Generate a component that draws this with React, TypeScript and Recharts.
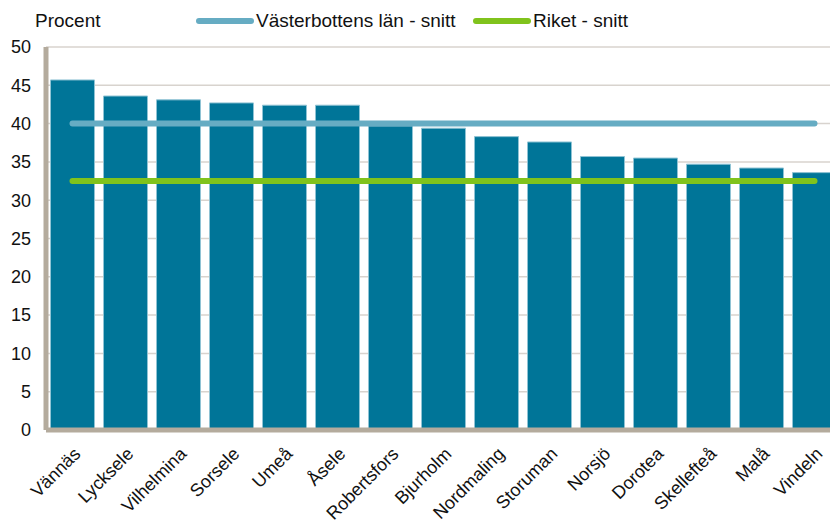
import { Bar, CartesianGrid, ComposedChart, Line, XAxis, YAxis } from "recharts";

const kommuner = [
  "Vännäs",
  "Lycksele",
  "Vilhelmina",
  "Sorsele",
  "Umeå",
  "Åsele",
  "Robertsfors",
  "Bjurholm",
  "Nordmaling",
  "Storuman",
  "Norsjö",
  "Dorotea",
  "Skellefteå",
  "Malå",
  "Vindeln"
];
const andel = [45.7, 43.6, 43.1, 42.7, 42.4, 42.4, 39.7, 39.4, 38.3, 37.6, 35.7, 35.5, 34.7, 34.2, 33.6];
const lanSnitt = 40.0;
const riketSnitt = 32.5;
const yTicks = [0, 5, 10, 15, 20, 25, 30, 35, 40, 45, 50];

const LAN_COLOR = "#66acc3";
const RIKET_COLOR = "#80c31c";
const BAR_COLOR = "#007598";
const FONT = "'Liberation Sans', Arial, sans-serif";

const data = kommuner.map((name, i) => ({
  name,
  andel: andel[i],
  lan: lanSnitt,
  riket: riketSnitt
}));

// legend sits above the plot, outside recharts' layout
function TopLegend() {
  const items = [
    { label: "Västerbottens län - snitt", color: LAN_COLOR, left: 194 },
    { label: "Riket - snitt", color: RIKET_COLOR, left: 471 }
  ];
  return (
    <>
      {items.map((it) => (
        <div
          key={it.label}
          style={{ position: "absolute", left: it.left, top: 10, display: "flex", alignItems: "center", whiteSpace: "nowrap", fontFamily: FONT, fontSize: 19, color: "#111" }}
        >
          <svg width={60} height={10} style={{ marginRight: 2 }}>
            <line x1={5} y1={5} x2={57} y2={5} stroke={it.color} strokeWidth={6} strokeLinecap="round" />
          </svg>
          <span>{it.label}</span>
        </div>
      ))}
    </>
  );
}

export default function App() {
  return (
    <div style={{ position: "absolute", left: 0, top: 0, width: 830, height: 520, overflow: "hidden", background: "#fff" }}>
      <div style={{ position: "absolute", left: 35, top: 10, fontFamily: FONT, fontSize: 19, color: "#111" }}>Procent</div>
      <TopLegend />
      <ComposedChart
        width={850}
        height={520}
        data={data}
        margin={{ top: 47, right: 9, bottom: 0, left: 0 }}
        barCategoryGap="8.5%"
        style={{ fontFamily: FONT }}
      >
        <CartesianGrid vertical={false} stroke="#d8d3ce" strokeWidth={1.5} />
        <XAxis
          dataKey="name"
          interval={0}
          height={90}
          tickLine={false}
          axisLine={{ stroke: "#b4ab9d", strokeWidth: 5 }}
          tick={{ fill: "#111", fontSize: 18, angle: -45, textAnchor: "end", dx: 0 }}
          tickMargin={10}
        />
        <YAxis
          domain={[0, 50]}
          ticks={yTicks}
          width={46}
          tickLine={false}
          axisLine={{ stroke: "#b4ab9d", strokeWidth: 5 }}
          tick={{ fill: "#111", fontSize: 18 }}
          tickSize={0}
          tickMargin={15}
        />
        <Bar dataKey="andel" fill={BAR_COLOR} stroke="#8fc3d4" strokeWidth={1} isAnimationActive={false} />
        <Line
          dataKey="lan"
          stroke={LAN_COLOR}
          strokeWidth={6}
          strokeLinecap="round"
          dot={false}
          activeDot={false}
          isAnimationActive={false}
        />
        <Line
          dataKey="riket"
          stroke={RIKET_COLOR}
          strokeWidth={6}
          strokeLinecap="round"
          dot={false}
          activeDot={false}
          isAnimationActive={false}
        />
      </ComposedChart>
    </div>
  );
}
